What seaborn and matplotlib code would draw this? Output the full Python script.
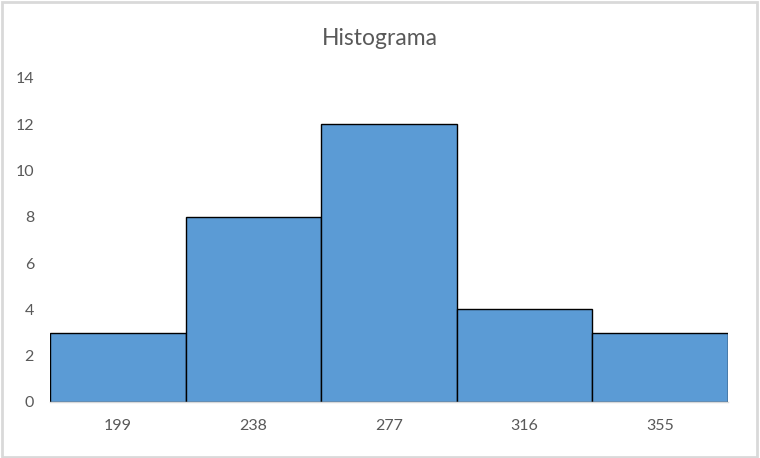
import numpy as np
import pandas as pd
import matplotlib
matplotlib.use("Agg")
import matplotlib.pyplot as plt
import seaborn as sns

# datos del histograma
clases = ['199', '238', '277', '316', '355']
frecuencias = [3, 8, 12, 4, 3]

df = pd.DataFrame({'Clase': clases, 'Frecuencia': frecuencias})

sns.set_theme(style="white")
plt.rcParams['font.family'] = ['Lato', 'DejaVu Sans']

fig = plt.figure(figsize=(7.6, 4.58), dpi=100)
fig.patch.set_facecolor('white')
ax = fig.add_axes([0.0658, 0.1223, 0.8922, 0.7074])

sns.barplot(data=df, x='Clase', y='Frecuencia', color='#5B9BD5', width=1.0,
            edgecolor='black', linewidth=1.0, saturation=1, ax=ax)

ax.set_xlim(-0.5, 4.5)
ax.set_ylim(0, 14)
ax.set_yticks(range(0, 15, 2))
ax.set_xlabel('')
ax.set_ylabel('')
for s in ['top', 'right', 'left']:
    ax.spines[s].set_visible(False)
ax.spines['bottom'].set_color('#d9d9d9')
ax.spines['bottom'].set_linewidth(1)
ax.tick_params(axis='both', length=0, labelsize=11.5, labelcolor='#595959')
ax.tick_params(axis='x', pad=12)
ax.tick_params(axis='y', pad=11.5)

fig.text(0.5, 0.917, 'Histograma', ha='center', va='center', fontsize=16.5, color='#595959')

# borde gris del área del gráfico
fig.patches.append(plt.Rectangle((0.002, 0.003), 0.994, 0.992, transform=fig.transFigure,
                                 fill=False, edgecolor='#d9d9d9', linewidth=2))

fig.savefig('out.png', dpi=100, facecolor='white')
